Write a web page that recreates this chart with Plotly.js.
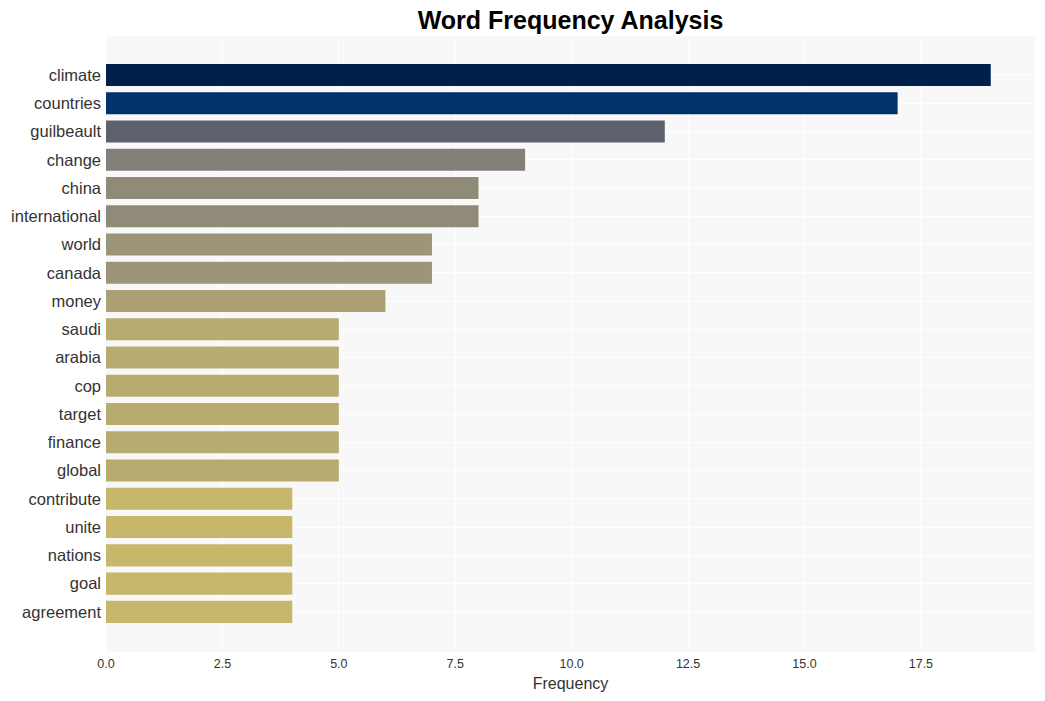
<!DOCTYPE html>
<html>
<head>
<meta charset="utf-8">
<script src="https://cdn.plot.ly/plotly-3.0.1.min.js"></script>
<style>html,body{margin:0;padding:0;background:#fff;}#chart{width:1045px;height:701px;}</style>
</head>
<body>
<div id="chart"></div>
<script>
const words = ["climate","countries","guilbeault","change","china","international","world","canada","money","saudi","arabia","cop","target","finance","global","contribute","unite","nations","goal","agreement"];
const counts = [19,17,12,9,8,8,7,7,6,5,5,5,5,5,5,4,4,4,4,4];

const trace = {
  type: 'bar',
  orientation: 'h',
  x: counts,
  y: words,
  marker: {
    color: counts,
    colorscale: 'Cividis',
    reversescale: true,
    cmin: 0,
    cmax: Math.max(...counts)
  },
  hoverinfo: 'x+y'
};

const layout = {
  width: 1045,
  height: 701,
  margin: {l: 106, r: 10, t: 36, b: 49},
  paper_bgcolor: '#ffffff',
  plot_bgcolor: '#f8f8f8',
  font: {family: 'Liberation Sans, Arial, sans-serif', color: '#333'},
  title: {
    text: '<b>Word Frequency Analysis</b>',
    font: {size: 25, color: '#000', family: 'Liberation Sans, Arial, sans-serif'},
    x: 0.5, xref: 'paper', xanchor: 'center',
    y: 1 - 20/701, yref: 'container', yanchor: 'middle'
  },
  bargap: 0.22,
  xaxis: {
    title: {text: 'Frequency', font: {size: 16, color: '#333'}, standoff: 8},
    range: [0, 19.95],
    dtick: 2.5,
    tickformat: '.1f',
    gridcolor: '#ffffff',
    gridwidth: 1,
    zeroline: false,
    showline: false,
    tickfont: {size: 12.5, color: '#333'},
    ticks: '',
    ticklabelstandoff: 2
  },
  yaxis: {
    type: 'category',
    categoryorder: 'array',
    categoryarray: words,
    range: [words.length - 1 + 1.42, -1.38],
    gridcolor: '#ffffff',
    gridwidth: 1,
    zeroline: false,
    showline: false,
    tickfont: {size: 16.5, color: '#333'},
    ticks: '',
    ticklabelstandoff: 4
  },
  showlegend: false
};

Plotly.newPlot('chart', [trace], layout, {displayModeBar: false, staticPlot: true});
</script>
</body>
</html>
